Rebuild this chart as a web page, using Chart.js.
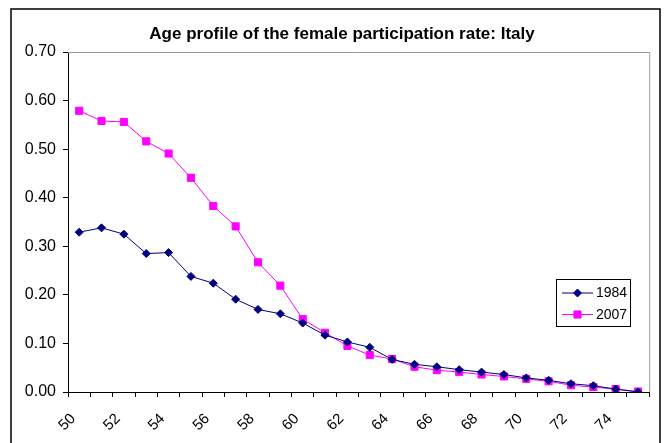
<!DOCTYPE html>
<html>
<head>
<meta charset="utf-8">
<script src="https://cdn.jsdelivr.net/npm/chart.js@4/dist/chart.umd.min.js"></script>
<style>
  html, body { margin: 0; padding: 0; background: #fff; }
  #wrap { width: 664px; height: 443px; }
</style>
</head>
<body>
<div id="wrap"><canvas id="chart" width="664" height="443"></canvas></div>
<script>
// Ages on the category axis
const ages = ['50','51','52','53','54','55','56','57','58','59','60','61','62',
              '63','64','65','66','67','68','69','70','71','72','73','74','75'];
// Every second age is labelled
const xTickLabels = ['50','52','54','56','58','60','62','64','66','68','70','72','74'];

// Female participation rate by single year of age
const rate1984 = [0.329,0.338,0.325,0.285,0.287,0.238,0.224,0.191,0.170,0.161,0.142,0.117,0.103,
                  0.092,0.067,0.057,0.052,0.046,0.041,0.036,0.029,0.024,0.017,0.013,0.006,0.000];
const rate2007 = [0.579,0.558,0.556,0.516,0.491,0.441,0.383,0.341,0.267,0.219,0.150,0.122,0.095,
                  0.076,0.068,0.052,0.045,0.041,0.036,0.032,0.027,0.022,0.014,0.010,0.006,0.001];

const seriesNames = ['1984', '2007'];
const chartTitle = 'Age profile of the female participation rate: Italy';
const FONT = 'Arial, "Liberation Sans", sans-serif';

// Outer frame, title, grey plot-area edges and the boxed legend
const decorations = {
  id: 'decorations',
  beforeDraw(chart) {
    const ctx = chart.ctx;
    ctx.save();
    ctx.fillStyle = '#fff';
    ctx.fillRect(0, 0, chart.width, chart.height);
    ctx.fillStyle = '#000';
    ctx.font = 'bold 17px ' + FONT;
    ctx.textAlign = 'center';
    ctx.textBaseline = 'middle';
    ctx.fillText(chartTitle, 342, 34);
    ctx.restore();
  },
  beforeDatasetsDraw(chart) {
    const { ctx, chartArea: a } = chart;
    ctx.save();
    ctx.strokeStyle = '#999';
    ctx.lineWidth = 1;
    ctx.beginPath();
    ctx.moveTo(a.left, a.top + 0.5);
    ctx.lineTo(a.right + 0.5, a.top + 0.5);
    ctx.lineTo(a.right + 0.5, a.bottom);
    ctx.stroke();
    ctx.restore();
  },
  afterDraw(chart) {
    const ctx = chart.ctx;
    ctx.save();
    // chart frame
    ctx.strokeStyle = '#000';
    ctx.lineWidth = 1.5;
    ctx.strokeRect(11, 9, 649, 460);

    // legend box
    const bx = 556.5, by = 279.5, bw = 74, bh = 47;
    ctx.fillStyle = '#fff';
    ctx.fillRect(bx, by, bw, bh);
    ctx.strokeStyle = '#000';
    ctx.lineWidth = 1;
    ctx.strokeRect(bx, by, bw, bh);

    ctx.font = '14px ' + FONT;
    ctx.textBaseline = 'middle';
    ctx.textAlign = 'left';
    chart.data.datasets.forEach((ds, i) => {
      const y = 293 + i * 21.5;
      ctx.strokeStyle = ds.borderColor;
      ctx.lineWidth = 1;
      ctx.beginPath();
      ctx.moveTo(562, y);
      ctx.lineTo(593, y);
      ctx.stroke();
      Chart.helpers.drawPoint(ctx, {
        pointStyle: ds.pointStyle,
        radius: ds.pointRadius,
        borderWidth: 1
      }, 577.5, y);
      ctx.fillStyle = ds.pointBackgroundColor;
      ctx.strokeStyle = ds.pointBorderColor;
      ctx.fill();
      ctx.fillStyle = '#000';
      ctx.fillText(ds.label, 596, y + 0.5);
    });
    ctx.restore();
  }
};

new Chart(document.getElementById('chart'), {
  type: 'line',
  data: {
    labels: ages,
    datasets: [
      {
        label: seriesNames[0],
        data: rate1984,
        borderColor: '#000080',
        backgroundColor: '#000080',
        pointBackgroundColor: '#000080',
        pointBorderColor: '#000080',
        borderWidth: 1,
        pointStyle: 'rectRot',
        pointRadius: 4,
        pointBorderWidth: 1,
        tension: 0,
        fill: false
      },
      {
        label: seriesNames[1],
        data: rate2007,
        borderColor: '#FF00FF',
        backgroundColor: '#FF00FF',
        pointBackgroundColor: '#FF00FF',
        pointBorderColor: '#FF00FF',
        borderWidth: 1,
        pointStyle: 'rect',
        pointRadius: 5,
        pointBorderWidth: 1,
        tension: 0,
        fill: false
      }
    ]
  },
  options: {
    responsive: false,
    animation: false,
    devicePixelRatio: 1,
    layout: { padding: { left: 10, right: 13, top: 52, bottom: 0 } },
    plugins: {
      legend: { display: false },
      tooltip: { enabled: false },
      title: { display: false }
    },
    scales: {
      x: {
        type: 'category',
        offset: true,
        grid: {
          offset: true,
          drawOnChartArea: false,
          drawTicks: true,
          tickLength: 5,
          color: '#000'
        },
        border: { display: true, color: '#000', width: 1 },
        ticks: {
          autoSkip: false,
          minRotation: 45,
          maxRotation: 45,
          padding: 13,
          labelOffset: -6,
          color: '#000',
          font: { family: FONT, size: 15 },
          callback(value) {
            const lab = this.getLabelForValue(value);
            return xTickLabels.includes(lab) ? lab : '';
          }
        },
        afterFit(scale) { scale.height = 51; }
      },
      y: {
        min: 0,
        max: 0.7,
        grid: {
          drawOnChartArea: false,
          drawTicks: true,
          tickLength: 5,
          color: '#000'
        },
        border: { display: true, color: '#000', width: 1 },
        ticks: {
          stepSize: 0.1,
          padding: 7,
          color: '#000',
          font: { family: FONT, size: 16 },
          callback(value) { return Number(value).toFixed(2); }
        },
        afterFit(scale) { scale.width = 58; }
      }
    }
  },
  plugins: [decorations]
});
</script>
</body>
</html>
